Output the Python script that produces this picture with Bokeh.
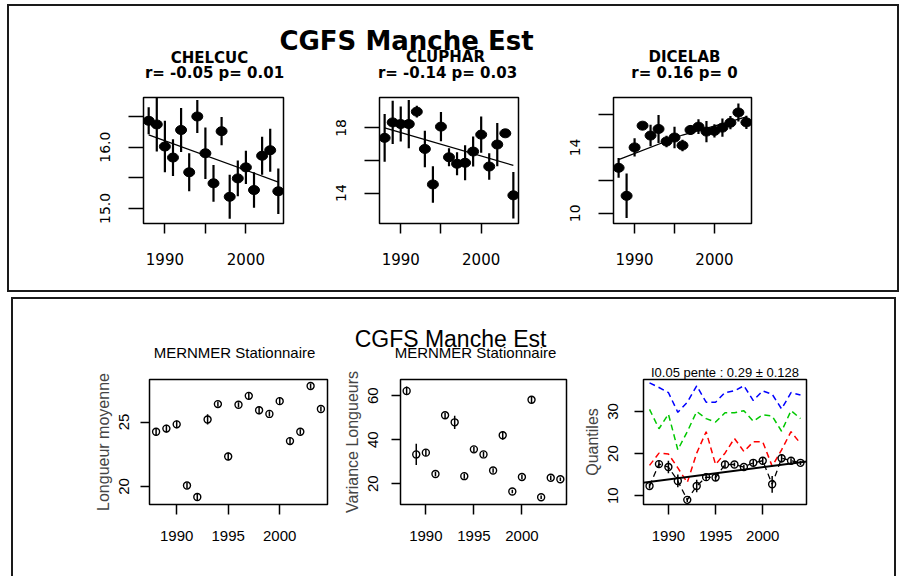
from bokeh.plotting import figure
from bokeh.layouts import column, row
from bokeh.models import Range1d, FixedTicker, Spacer, Title
from bokeh.core.properties import value
from bokeh.embed import file_html
from bokeh.resources import INLINE

# ---------------- data ----------------
years = [1988, 1989, 1990, 1991, 1992, 1993, 1994, 1995, 1996, 1997, 1998, 1999, 2000, 2001, 2002, 2003, 2004]

chelcuc_mean = [16.43, 16.37, 16.01, 15.83, 16.28, 15.59, 16.50, 15.90, 15.41, 16.26, 15.19, 15.49, 15.67, 15.30, 15.86, 15.95, 15.28]
chelcuc_sd = [0.22, 0.44, 0.42, 0.30, 0.36, 0.31, 0.27, 0.42, 0.30, 0.23, 0.36, 0.29, 0.27, 0.29, 0.31, 0.35, 0.37]
chelcuc_trend_x = [1988, 2004]
chelcuc_trend_y = [16.20, 15.43]

cluphar_mean = [17.39, 18.34, 18.24, 18.24, 19.00, 16.71, 14.53, 18.08, 16.20, 15.80, 15.86, 16.55, 17.59, 15.63, 16.98, 17.67, 13.86]
cluphar_sd = [1.47, 1.33, 1.07, 1.48, 0.36, 1.12, 1.12, 0.90, 0.56, 0.71, 1.07, 0.92, 1.12, 0.82, 1.33, 0.22, 1.43]
cluphar_trend_x = [1988, 2004]
cluphar_trend_y = [18.0, 15.7]

dicelab_mean = [12.76, 11.06, 14.00, 15.32, 14.72, 15.12, 14.36, 14.60, 14.12, 15.06, 15.26, 14.96, 15.00, 15.20, 15.50, 16.12, 15.52]
dicelab_sd = [0.60, 1.35, 0.55, 0.20, 0.65, 0.85, 0.35, 0.65, 0.35, 0.30, 0.45, 0.65, 0.40, 0.55, 0.40, 0.55, 0.40]
dicelab_trend_x = [1988, 1996, 2004]
dicelab_trend_y = [13.26, 14.75, 15.85]

long_mean = [24.24, 24.49, 24.82, 20.07, 19.18, 25.20, 26.39, 22.33, 26.34, 27.03, 25.91, 25.63, 26.62, 23.52, 24.24, 27.79, 26.01]
long_sd = [0.3, 0.3, 0.3, 0.2, 0.3, 0.4, 0.2, 0.3, 0.2, 0.3, 0.3, 0.2, 0.3, 0.3, 0.2, 0.2, 0.2]

var_mean = [62.2, 33.3, 34.1, 24.4, 51.1, 47.9, 23.4, 35.6, 33.3, 26.0, 42.0, 16.4, 23.0, 58.2, 13.8, 22.7, 22.0]
var_sd = [2.0, 4.8, 1.5, 1.0, 1.2, 3.0, 1.2, 1.2, 1.2, 1.0, 2.0, 0.8, 1.0, 1.5, 0.8, 1.0, 0.8]

q_blue = [36.8, 35.7, 34.5, 29.8, 32.2, 36.1, 32.2, 32.2, 34.5, 34.9, 36.1, 32.6, 34.9, 34.1, 30.6, 34.5, 33.9]
q_green = [30.5, 25.9, 29.4, 20.9, 25.2, 30.0, 28.3, 27.5, 29.7, 29.7, 30.2, 27.7, 29.2, 28.9, 25.3, 30.2, 28.3]
q_red = [17.2, 20.1, 19.9, 16.6, 13.1, 20.1, 25.2, 17.4, 20.1, 23.6, 20.5, 22.8, 22.8, 17.0, 20.9, 25.2, 22.4]
q_black = [12.3, 17.5, 16.8, 13.5, 9.0, 12.3, 14.4, 14.3, 17.4, 17.4, 16.8, 17.8, 18.3, 12.7, 18.9, 18.3, 17.8]
q_black_sd = [0.6, 0.8, 1.5, 1.5, 0.5, 1.5, 0.8, 0.8, 0.8, 0.5, 0.5, 0.8, 0.8, 2.0, 1.0, 0.6, 0.5]
qtrend_x = [1987, 2005]
qtrend_y = [13.0, 18.2]

main_title = "CGFS Manche Est"
top_names = ["CHELCUC", "CLUPHAR", "DICELAB"]
top_stats = ["r= -0.05 p= 0.01", "r= -0.14 p= 0.03", "r= 0.16 p= 0"]
bottom_subtitles = ["MERNMER Stationnaire", "MERNMER Stationnaire", "I0.05 pente : 0.29 \u00b1 0.128"]
bottom_ylabels = ["Longueur moyenne", "Variance Longueurs", "Quantiles"]

x_ticks = [1990, 1995, 2000]
top_x_labels = {1990: "1990", 1995: "", 2000: "2000"}
bottom_x_labels = {1990: "1990", 1995: "1995", 2000: "2000"}
chelcuc_y_ticks = [15.0, 15.5, 16.0, 16.5]
chelcuc_y_labels = {15.0: "15.0", 15.5: "", 16.0: "16.0", 16.5: ""}
cluphar_y_ticks = [14, 16, 18]
cluphar_y_labels = {14: "14", 16: "", 18: "18"}
dicelab_y_ticks = [10, 12, 14, 16]
dicelab_y_labels = {10: "10", 12: "", 14: "14", 16: ""}
long_y_ticks = [20, 25]
var_y_ticks = [20, 40, 60]
q_y_ticks = [10, 20, 30]

TOPFONT = "DejaVu Sans"
BOTFONT = "Liberation Sans"
BORDER = "2px solid #1a1a1a"


def title_fig(width, height, x0, y0):
    # a plain canvas whose data coordinates equal page pixels
    p = figure(width=width, height=height, x_range=Range1d(x0, x0 + width),
               y_range=Range1d(y0 + height, y0), x_axis_type=None, y_axis_type=None,
               toolbar_location=None, output_backend="svg", min_border=0)
    p.grid.visible = False
    p.outline_line_color = None
    return p


def sub_fig(width, height, ml, mr, mt, mb, xr, yr, top=True):
    p = figure(width=width, height=height, x_range=Range1d(*xr), y_range=Range1d(*yr),
               toolbar_location=None, output_backend="svg",
               min_border_left=ml, min_border_right=mr, min_border_top=mt, min_border_bottom=mb)
    p.grid.visible = False
    p.outline_line_color = "black"
    p.outline_line_width = 1.5
    for ax in (p.xaxis, p.yaxis):
        ax.axis_line_color = None
        ax.minor_tick_line_color = None
        ax.major_tick_in = 0
        ax.major_tick_line_color = "black"
        ax.major_tick_line_width = 1.5
        ax.major_label_text_color = "black"
    p.yaxis.major_label_orientation = "vertical"
    if top:
        p.xaxis.major_label_text_font = TOPFONT
        p.yaxis.major_label_text_font = TOPFONT
        p.xaxis.major_label_text_font_size = "15px"
        p.yaxis.major_label_text_font_size = "14px"
        p.xaxis.major_tick_out = 10
        p.yaxis.major_tick_out = 15
        p.xaxis.major_label_standoff = 19
        p.yaxis.major_label_standoff = 18
    else:
        p.xaxis.major_label_text_font = BOTFONT
        p.yaxis.major_label_text_font = BOTFONT
        p.xaxis.major_label_text_font_size = "15px"
        p.yaxis.major_label_text_font_size = "15px"
        p.xaxis.major_tick_out = 10
        p.yaxis.major_tick_out = 9
        p.xaxis.major_label_standoff = 16
        p.yaxis.major_label_standoff = 12
        p.yaxis.axis_label_text_font = BOTFONT
        p.yaxis.axis_label_text_font_size = "16px"
        p.yaxis.axis_label_text_font_style = "normal"
        p.yaxis.axis_label_standoff = 5
    p.xaxis.ticker = FixedTicker(ticks=x_ticks)
    return p


XR = (1987.36, 2004.64)

# ---------------- top panel ----------------
tt = title_fig(888, 82, 9, 6)
tt.text(x=[406], y=[40], text=[main_title], text_align="center", text_baseline="alphabetic",
        text_font=value(TOPFONT), text_font_style="bold", text_font_size="26px", text_color="black")
tt.text(x=[209, 445, 684], y=[57, 56, 56], text=top_names, text_align="center",
        text_baseline="alphabetic", text_font=value(TOPFONT), text_font_style="bold",
        text_font_size="15px", text_color="black")
tt.text(x=[214, 447, 684], y=[72, 72, 72], text=top_stats, text_align="center",
        text_baseline="alphabetic", text_font=value(TOPFONT), text_font_style="bold",
        text_font_size="15px", text_color="black")


def top_plot(width, ml, mr, yr, mean, sd, tx, ty, yticks, ylabels):
    p = sub_fig(width, 202, ml, mr, 9, 67, XR, yr, top=True)
    p.xaxis.major_label_overrides = top_x_labels
    p.yaxis.ticker = FixedTicker(ticks=yticks)
    p.yaxis.major_label_overrides = ylabels
    lo = [m - s for m, s in zip(mean, sd)]
    hi = [m + s for m, s in zip(mean, sd)]
    p.line(tx, ty, line_color="black", line_width=1.2)
    p.segment(x0=years, y0=lo, x1=years, y1=hi, line_color="black", line_width=2.2)
    p.ellipse(x=years, y=mean, width=11, height=9, width_units="screen", height_units="screen",
              fill_color="black", line_color="black")
    return p


f1 = top_plot(291, 134, 17, (14.754, 16.81), chelcuc_mean, chelcuc_sd, chelcuc_trend_x, chelcuc_trend_y,
              chelcuc_y_ticks, chelcuc_y_labels)
f2 = top_plot(240, 79, 22, (12.13, 19.87), cluphar_mean, cluphar_sd, cluphar_trend_x, cluphar_trend_y,
              cluphar_y_ticks, cluphar_y_labels)
f3 = top_plot(357, 73, 146, (9.38, 17.03), dicelab_mean, dicelab_sd, dicelab_trend_x, dicelab_trend_y,
              dicelab_y_ticks, dicelab_y_labels)

top_panel = column(tt, row(f1, f2, f3), styles={"border": BORDER})

# ---------------- bottom panel ----------------
bt = title_fig(881, 63, 13, 299)
bt.text(x=[450], y=[338], text=[main_title], text_align="center", text_baseline="alphabetic",
        text_font=value(BOTFONT), text_font_size="23px", text_color="black")
bt.text(x=[234, 475], y=[352, 352], text=bottom_subtitles[:2], text_align="center",
        text_baseline="alphabetic", text_font=value(BOTFONT), text_font_size="15px", text_color="black")


def bottom_plot(width, ml, mr, yr, ylabel, yticks, lab_standoff):
    p = sub_fig(width, 214, ml, mr, 15, 72, XR, yr, top=False)
    p.xaxis.major_label_overrides = bottom_x_labels
    p.yaxis.ticker = FixedTicker(ticks=yticks)
    p.yaxis.axis_label = ylabel
    p.yaxis.major_label_standoff = lab_standoff
    return p


def err_points(p, mean, sd):
    lo = [m - s for m, s in zip(mean, sd)]
    hi = [m + s for m, s in zip(mean, sd)]
    p.segment(x0=years, y0=lo, x1=years, y1=hi, line_color="black", line_width=1.5)
    p.scatter(x=years, y=mean, marker="circle", size=7, fill_color=None, line_color="black", line_width=1.4)


ga = bottom_plot(327, 136, 13, (18.6, 28.3), bottom_ylabels[0], long_y_ticks, 11)
err_points(ga, long_mean, long_sd)

gb = bottom_plot(240, 48, 14, (10.5, 67.4), bottom_ylabels[1], var_y_ticks, 13)
err_points(gb, var_mean, var_sd)

gc = bottom_plot(314, 47, 88, (7.9, 37.6), bottom_ylabels[2], q_y_ticks, 16)
gc.add_layout(Title(text=bottom_subtitles[2], align="center", offset=-3, text_font=BOTFONT,
                    text_font_size="13px", text_font_style="normal", text_color="black", standoff=0), "above")
gc.line(years, q_blue, line_color="#0000ff", line_dash="6 4", line_width=1.5)
gc.line(years, q_green, line_color="#00c800", line_dash="6 4", line_width=1.5)
gc.line(years, q_red, line_color="#ff0000", line_dash="6 4", line_width=1.5)
gc.line(years, q_black, line_color="black", line_dash="6 4", line_width=1.3)
err_points(gc, q_black, q_black_sd)
gc.line(qtrend_x, qtrend_y, line_color="black", line_width=2)

bottom_panel = column(bt, row(ga, gb, gc), margin=(0, 0, 0, 4),
                      styles={"border-top": BORDER, "border-left": BORDER, "border-right": BORDER})

layout = column(top_panel, Spacer(height=5), bottom_panel, margin=(4, 0, 0, 7))

open("out.html", "w").write(file_html(layout, INLINE, title="CGFS Manche Est"))
